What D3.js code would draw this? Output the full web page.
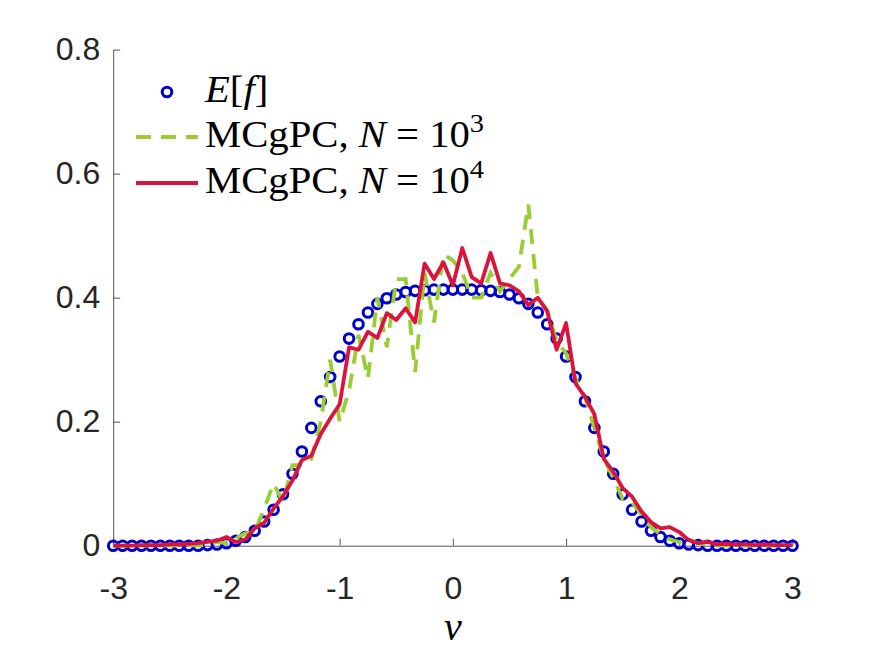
<!DOCTYPE html>
<html>
<head>
<meta charset="utf-8">
<script src="https://cdn.jsdelivr.net/npm/d3@7"></script>
<style>
  body { margin: 0; background: #fff; }
  svg { display: block; }
</style>
</head>
<body>
<div id="chart"></div>
<script>
// velocity grid, v = -3 : 1/12 : 3  (73 nodes)
var vGrid = d3.range(73).map(function(i) { return -3 + i / 12; });

// E[f] (left to right)
var meanF = [
  0, 0, 0, 0, 0, 0, 0, 0, 0, 0,
  0.001, 0.002, 0.004, 0.008, 0.014, 0.024, 0.039, 0.058, 0.083, 0.116,
  0.152, 0.19, 0.233, 0.272, 0.305, 0.334, 0.357, 0.376, 0.39, 0.399,
  0.405, 0.409, 0.411, 0.412, 0.413, 0.413, 0.413, 0.413, 0.413, 0.412,
  0.411, 0.409, 0.405, 0.399, 0.39, 0.376, 0.357, 0.334, 0.305, 0.272,
  0.233, 0.19, 0.152, 0.116, 0.083, 0.058, 0.039, 0.024, 0.014, 0.008,
  0.004, 0.002, 0.001, 0, 0, 0, 0, 0, 0, 0,
  0, 0, 0
];

// MCgPC, N = 10^3 (green dashed)
var mc1e3 = [
  0, 0, 0, 0, 0, 0, 0, 0, 0.001, 0,
  0.002, 0.006, 0.004, 0.012, 0.02, 0.022, 0.06, 0.1, 0.07, 0.13,
  0.13, 0.14, 0.2, 0.3, 0.2, 0.25, 0.34, 0.27, 0.4, 0.32,
  0.43, 0.43, 0.28, 0.44, 0.36, 0.47, 0.46, 0.44, 0.40, 0.40,
  0.44, 0.41, 0.43, 0.45, 0.55, 0.40, 0.38, 0.33, 0.31, 0.27,
  0.24, 0.19, 0.14, 0.11, 0.075, 0.07, 0.05, 0.03, 0.018, 0.01,
  0.006, 0.01, 0.004, 0.001, 0, 0, 0, 0, 0, 0,
  0, 0, 0
];

// MCgPC, N = 10^4 (red solid)
var mc1e4 = [
  0, 0, 0, 0.001, 0.001, 0.001, 0.002, 0.002, 0.003, 0.004,
  0.006, 0.008, 0.014, 0.006, 0.01, 0.028, 0.037, 0.06, 0.08, 0.105,
  0.138, 0.145, 0.18, 0.205, 0.228, 0.32, 0.316, 0.345, 0.335, 0.375,
  0.364, 0.383, 0.36, 0.455, 0.43, 0.457, 0.42, 0.48, 0.433, 0.423,
  0.472, 0.423, 0.42, 0.41, 0.388, 0.40, 0.378, 0.316, 0.359, 0.262,
  0.24, 0.212, 0.14, 0.119, 0.093, 0.079, 0.055, 0.038, 0.028, 0.03,
  0.022, 0.009, 0.004, 0.006, 0.002, 0.003, 0.002, 0.002, 0.001, 0.002,
  0.001, 0.001, 0.001
];

var xTicks = [-3, -2, -1, 0, 1, 2, 3];
var yTicks = [0, 0.2, 0.4, 0.6, 0.8];

var W = 875, H = 657;
var m = { left: 113.2, right: 792.5, top: 49.6, bottom: 545.7 };

var svg = d3.select("#chart").append("svg")
  .attr("width", W)
  .attr("height", H);

svg.append("rect").attr("width", W).attr("height", H).attr("fill", "#fff");

var x = d3.scaleLinear().domain([-3, 3]).range([m.left, m.right]);
var y = d3.scaleLinear().domain([0, 0.8]).range([m.bottom, m.top]);

var axisColor = "#262626";
var sans = "'Liberation Sans', Arial, Helvetica, sans-serif";
var serif = "'Liberation Serif', 'DejaVu Serif', serif";

// axes, MATLAB style: ticks pointing in, no box
var xAxis = svg.append("g")
  .attr("transform", "translate(0," + m.bottom + ")")
  .call(d3.axisBottom(x).tickValues(xTicks).tickSizeInner(-7).tickSizeOuter(0)
    .tickPadding(31).tickFormat(d3.format("d")));

var yAxis = svg.append("g")
  .attr("transform", "translate(" + m.left + ",0)")
  .call(d3.axisLeft(y).tickValues(yTicks).tickSizeInner(-7).tickSizeOuter(0)
    .tickPadding(13).tickFormat(function(d) { return d === 0 ? "0" : d3.format(".1f")(d); }));

[xAxis, yAxis].forEach(function(a) {
  a.select(".domain").attr("stroke", "#555").attr("stroke-width", 1);
  a.selectAll(".tick line").attr("stroke", "#555").attr("stroke-width", 1);
  a.selectAll(".tick text")
    .attr("fill", axisColor)
    .style("font-family", sans)
    .style("font-size", "32px");
});
// hyphen minus like the original
xAxis.selectAll(".tick text").text(function(d) { return String(d); });

// E[f] circles
svg.append("g").selectAll("circle")
  .data(vGrid)
  .enter().append("circle")
  .attr("cx", function(d) { return x(d); })
  .attr("cy", function(d, i) { return y(meanF[i]); })
  .attr("r", 4.8)
  .attr("fill", "none")
  .attr("stroke", "#0000cd")
  .attr("stroke-width", 3);

var line = d3.line()
  .x(function(d) { return x(d[0]); })
  .y(function(d) { return y(d[1]); });

svg.append("path")
  .datum(d3.zip(vGrid, mc1e3))
  .attr("d", line)
  .attr("fill", "none")
  .attr("stroke", "#9acd32")
  .attr("stroke-width", 3.8)
  .attr("stroke-dasharray", "15,10");

svg.append("path")
  .datum(d3.zip(vGrid, mc1e4))
  .attr("d", line)
  .attr("fill", "none")
  .attr("stroke", "#dc143c")
  .attr("stroke-width", 3.8)
  .attr("stroke-linejoin", "round");

// x label
svg.append("text")
  .attr("x", x(0))
  .attr("y", 640)
  .attr("text-anchor", "middle")
  .style("font-family", serif)
  .style("font-style", "italic")
  .style("font-size", "40px")
  .attr("fill", "#000")
  .text("v");

// legend
var leg = svg.append("g");
var rows = [92, 137, 183];
var fs = 37;

leg.append("circle")
  .attr("cx", 167).attr("cy", rows[0]).attr("r", 4.8)
  .attr("fill", "none").attr("stroke", "#0000cd").attr("stroke-width", 3);
leg.append("line")
  .attr("x1", 136).attr("x2", 198).attr("y1", rows[1]).attr("y2", rows[1])
  .attr("stroke", "#9acd32").attr("stroke-width", 3.8).attr("stroke-dasharray", "15,10");
leg.append("line")
  .attr("x1", 136).attr("x2", 198).attr("y1", rows[2]).attr("y2", rows[2])
  .attr("stroke", "#dc143c").attr("stroke-width", 3.8);

// latex text is wider than Times, so stretch a little
function legText(yy) {
  return leg.append("text")
    .attr("transform", "translate(205," + (yy + 10) + ") scale(1.1,1)")
    .style("font-family", serif)
    .style("font-size", fs + "px")
    .attr("fill", "#000");
}

var t0 = legText(rows[0]);
t0.append("tspan").style("font-style", "italic").text("E");
t0.append("tspan").text("[");
t0.append("tspan").style("font-style", "italic").text("f");
t0.append("tspan").text("]");

[["3", rows[1]], ["4", rows[2]]].forEach(function(r) {
  var t = legText(r[1]);
  t.append("tspan").text("MCgPC, ");
  t.append("tspan").style("font-style", "italic").text("N");
  t.append("tspan").text(" = 10");
  t.append("tspan").attr("dy", -15).style("font-size", (fs * 0.7) + "px").text(r[0]);
});
</script>
</body>
</html>
